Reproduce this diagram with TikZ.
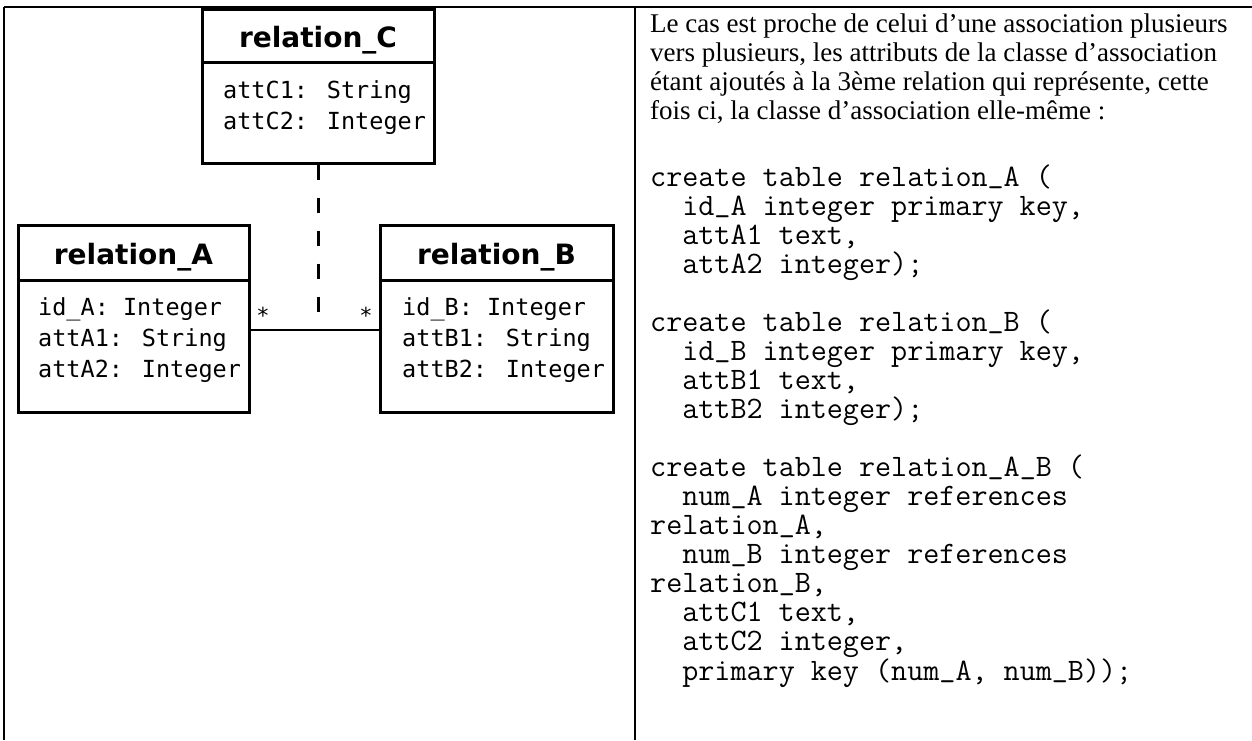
\documentclass[tikz,border=0pt]{standalone}
\usepackage{fontspec}
\setmainfont{Liberation Serif}
\newfontfamily\umlmono{DejaVu Sans Mono}
\newfontfamily\umlsans{DejaVu Sans}
\newcommand\cu{\raisebox{3.5pt}{\_}}
\begin{document}
\begin{tikzpicture}[x=1pt,y=-1pt,
  umlbox/.style={draw, line width=3pt, rectangle, inner sep=0pt},
  sepline/.style={line width=3pt},
  title/.style={anchor=base, inner sep=0pt, font=\umlsans\bfseries\fontsize{28}{30}\selectfont},
  attr/.style={anchor=base west, inner sep=0pt, text height=17pt, text depth=5pt, font=\umlmono\fontsize{23.5}{26}\selectfont},
  mult/.style={inner sep=0pt, font=\umlmono\fontsize{22}{24}\selectfont},
  para/.style={anchor=base west, inner sep=0pt, text height=19pt, text depth=6pt, font=\fontsize{27}{29}\selectfont},
  code/.style={anchor=base west, inner sep=0pt, text height=19pt, text depth=6pt, font=\ttfamily\fontsize{31.2}{33}\selectfont},
  tableline/.style={line width=1.6pt},
  assoc/.style={line width=2.6pt},
  assocdash/.style={line width=3pt, dash pattern=on 15pt off 18pt}]
\useasboundingbox (0,0) rectangle (1252,740);
% table frame
\coordinate (ftl) at (4,7);
\coordinate (ftr) at (1252,7);
\coordinate (fbl) at (4,740);
\coordinate (fmt) at (635,7);
\coordinate (fmb) at (635,740);
\draw[tableline] (ftl) -- (ftr);
\draw[tableline] (ftl) -- (fbl);
\draw[tableline] (fmt) -- (fmb);

% class C
\node[umlbox, minimum width=232pt, minimum height=154pt] (boxC) at (318,86) {};
\draw[sepline] (boxC.west |- 0,62) -- (boxC.east |- 0,62);
\node[title] (tC) at (318,47) {relation\_C};
\node[attr] (c1) at (223,98) {attC1: String};
\node[attr] (c2) at (223,129) {attC2: Integer};

% class A
\node[umlbox, minimum width=231pt, minimum height=187pt] (boxA) at (133.5,318.5) {};
\draw[sepline] (boxA.west |- 0,280) -- (boxA.east |- 0,280);
\node[title] (tA) at (133.5,264) {relation\_A};
\node[attr] (a1) at (38,315) {id\_A: Integer};
\node[attr] (a2) at (38,346) {attA1: String};
\node[attr] (a3) at (38,377) {attA2: Integer};

% class B
\node[umlbox, minimum width=233pt, minimum height=187pt] (boxB) at (496.5,318.5) {};
\draw[sepline] (boxB.west |- 0,280) -- (boxB.east |- 0,280);
\node[title] (tB) at (496.5,264) {relation\_B};
\node[attr] (b1) at (402,315) {id\_B: Integer};
\node[attr] (b2) at (402,346) {attB1: String};
\node[attr] (b3) at (402,377) {attB2: Integer};

% association
\coordinate (mid) at (318,330);
\draw[assoc] (boxA.east |- mid) -- (boxB.west |- mid);
\draw[assocdash] (boxC.south) -- (mid);
\node[mult] (sA) at (263,315) {*};
\node[mult] (sB) at (366,315) {*};

% right column text
\foreach \i/\t in {
  1/{Le cas est proche de celui d’une association plusieurs},
  2/{vers plusieurs, les attributs de la classe d’association},
  3/{étant ajoutés à la 3ème relation qui représente, cette},
  4/{fois ci, la classe d’association elle-même :}}
  \node[para] (p\i) at (650,{32+(\i-1)*29.3}) {\t};

\foreach \i/\t in {
  0/{create table relation\cu A (},
  1/{~~id\cu A integer primary key,},
  2/{~~attA1 text,},
  3/{~~attA2 integer);},
  5/{create table relation\cu B (},
  6/{~~id\cu B integer primary key,},
  7/{~~attB1 text,},
  8/{~~attB2 integer);},
  10/{create table relation\cu A\cu B (},
  11/{~~num\cu A integer references},
  12/{relation\cu A,},
  13/{~~num\cu B integer references},
  14/{relation\cu B,},
  15/{~~attC1 text,},
  16/{~~attC2 integer,},
  17/{~~primary key (num\cu A, num\cu B));}}
  \node[code] (k\i) at (650,{186+\i*29.06}) {\t};
\end{tikzpicture}
\end{document}
